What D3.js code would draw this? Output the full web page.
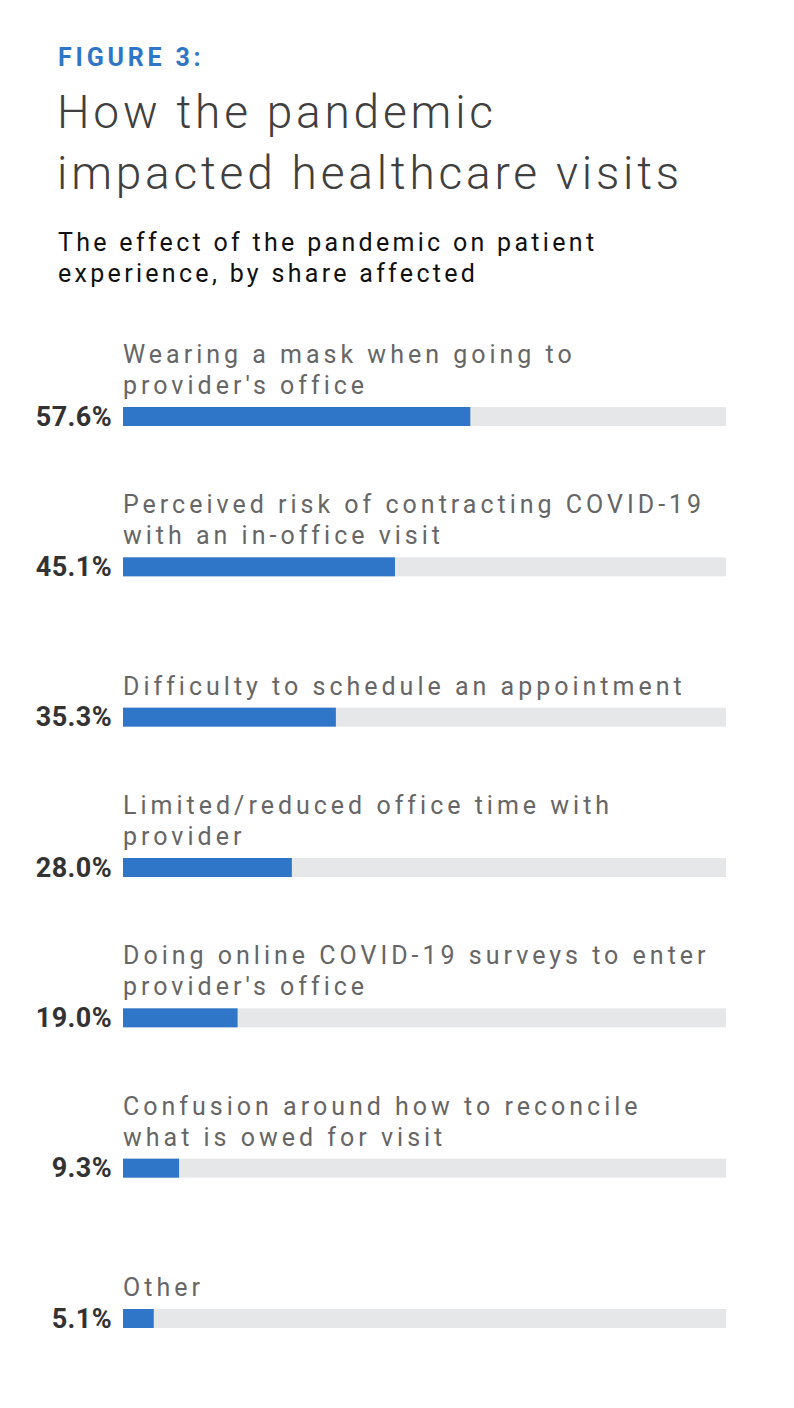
<!DOCTYPE html>
<html><head><meta charset="utf-8">
<script src="https://cdn.jsdelivr.net/npm/d3@7"></script>
<style>
html,body{margin:0;padding:0;background:#fff;}
svg{display:block;}
</style></head>
<body>
<script>
const categories = [
  "Wearing a mask when going to provider's office",
  "Perceived risk of contracting COVID-19 with an in-office visit",
  "Difficulty to schedule an appointment",
  "Limited/reduced office time with provider",
  "Doing online COVID-19 surveys to enter provider's office",
  "Confusion around how to reconcile what is owed for visit",
  "Other"
];
const labelLines = [
  ["Wearing a mask when going to", "provider's office"],
  ["Perceived risk of contracting COVID-19", "with an in-office visit"],
  ["Difficulty to schedule an appointment"],
  ["Limited/reduced office time with", "provider"],
  ["Doing online COVID-19 surveys to enter", "provider's office"],
  ["Confusion around how to reconcile", "what is owed for visit"],
  ["Other"]
];
const values = [57.6, 45.1, 35.3, 28.0, 19.0, 9.3, 5.1];
const valueLabels = ["57.6%", "45.1%", "35.3%", "28.0%", "19.0%", "9.3%", "5.1%"];
const figureLabel = "FIGURE 3:";
const titleLines = ["How the pandemic", "impacted healthcare visits"];
const subtitleLines = ["The effect of the pandemic on patient", "experience, by share affected"];

const W = 794, H = 1408;
const svg = d3.select("body").append("svg").attr("width", W).attr("height", H);

svg.append("text").attr("x", 58).attr("y", 66)
  .style("font-family", "Roboto, sans-serif").style("font-weight", 700)
  .style("font-size", "25px").style("letter-spacing", "3.8px")
  .attr("fill", "#3076c8").text(figureLabel);

svg.selectAll("text.title").data(titleLines).join("text").attr("class", "title")
  .attr("x", 57).attr("y", (d, i) => 128 + i * 61)
  .style("font-family", "Roboto, sans-serif").style("font-weight", 300)
  .style("font-size", "46px").style("letter-spacing", "3.8px")
  .attr("fill", "#404040").text(d => d);

svg.selectAll("text.sub").data(subtitleLines).join("text").attr("class", "sub")
  .attr("x", 58).attr("y", (d, i) => 251 + i * 31)
  .style("font-family", "Roboto, sans-serif").style("font-weight", 400)
  .style("font-size", "25px").style("letter-spacing", "3.3px")
  .attr("fill", "#111").text(d => d);

const x = d3.scaleLinear().domain([0, 100]).range([123, 726]);
const y = d3.scalePoint().domain(categories).range([407, 1309]);
const barH = 19;

const rows = svg.selectAll("g.row").data(categories).join("g").attr("class", "row")
  .attr("transform", d => `translate(0,${y(d)})`);

rows.append("rect").attr("x", x(0)).attr("y", 0)
  .attr("width", x(100) - x(0)).attr("height", barH).attr("fill", "#e6e7e9");

rows.append("rect").attr("x", x(0)).attr("y", 0)
  .attr("width", (d, i) => x(values[i]) - x(0)).attr("height", barH).attr("fill", "#3076c8");

rows.append("text").attr("x", 112).attr("y", barH - 0.5).attr("text-anchor", "end")
  .style("font-family", "Roboto, sans-serif").style("font-weight", 700)
  .style("font-size", "27px").style("letter-spacing", "0.4px")
  .attr("fill", "#333").text((d, i) => valueLabels[i]);

rows.each(function(d, i) {
  const lines = labelLines[i];
  const n = lines.length;
  d3.select(this).selectAll("text.lab").data(lines).join("text").attr("class", "lab")
    .attr("x", 123).attr("y", (l, j) => -13 - (n - 1 - j) * 31)
    .style("font-family", "Roboto, sans-serif").style("font-weight", 400)
    .style("font-size", "25px").style("letter-spacing", "4px")
    .attr("fill", "#666").text(l => l);
});
</script>
</body></html>
